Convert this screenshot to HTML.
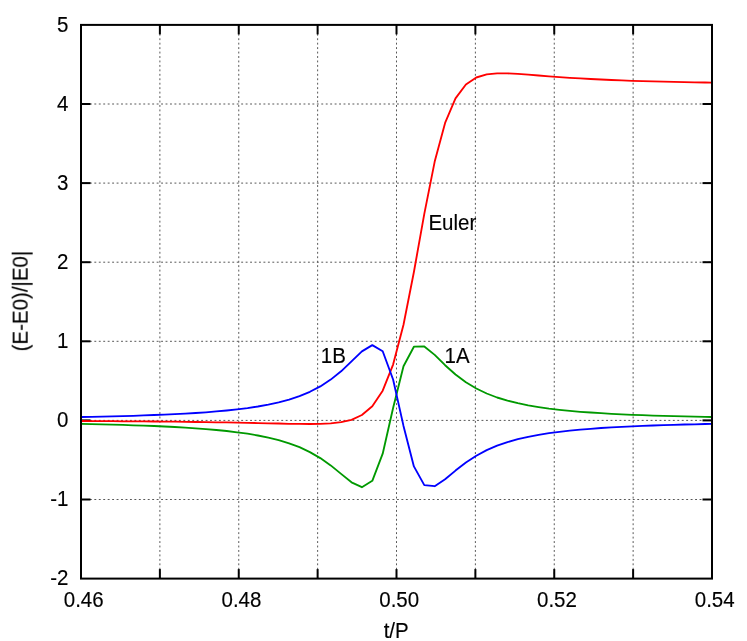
<!DOCTYPE html>
<html><head><meta charset="utf-8"><title>Energy error</title>
<style>
html,body{margin:0;padding:0;background:#fff;}
svg{display:block;}
text{font-family:"Liberation Sans",sans-serif;font-size:20.5px;fill:#000;stroke:#000;stroke-width:0.15px;}
</style></head>
<body>
<svg width="747" height="641" viewBox="0 0 747 641">
<rect x="0" y="0" width="747" height="641" fill="#ffffff"/>
<defs><clipPath id="pc"><rect x="81" y="24.9" width="631" height="553.7"/></clipPath></defs>
<g stroke="#585858" stroke-width="1" stroke-dasharray="1.9 2.55" fill="none">
<line x1="159.875" y1="24.9" x2="159.875" y2="578.6"/>
<line x1="238.750" y1="24.9" x2="238.750" y2="578.6"/>
<line x1="317.625" y1="24.9" x2="317.625" y2="578.6"/>
<line x1="396.500" y1="24.9" x2="396.500" y2="578.6"/>
<line x1="475.375" y1="24.9" x2="475.375" y2="578.6"/>
<line x1="554.250" y1="24.9" x2="554.250" y2="578.6"/>
<line x1="633.125" y1="24.9" x2="633.125" y2="578.6"/>
<line x1="81" y1="104.00" x2="712" y2="104.00"/>
<line x1="81" y1="183.10" x2="712" y2="183.10"/>
<line x1="81" y1="262.20" x2="712" y2="262.20"/>
<line x1="81" y1="341.30" x2="712" y2="341.30"/>
<line x1="81" y1="420.40" x2="712" y2="420.40"/>
<line x1="81" y1="499.50" x2="712" y2="499.50"/>
</g>
<g stroke="#000" stroke-width="2" fill="none">
<line x1="159.88" y1="578.6" x2="159.88" y2="569.1"/><line x1="159.88" y1="24.9" x2="159.88" y2="34.4"/>
<line x1="238.75" y1="578.6" x2="238.75" y2="569.1"/><line x1="238.75" y1="24.9" x2="238.75" y2="34.4"/>
<line x1="317.62" y1="578.6" x2="317.62" y2="569.1"/><line x1="317.62" y1="24.9" x2="317.62" y2="34.4"/>
<line x1="396.50" y1="578.6" x2="396.50" y2="569.1"/><line x1="396.50" y1="24.9" x2="396.50" y2="34.4"/>
<line x1="475.38" y1="578.6" x2="475.38" y2="569.1"/><line x1="475.38" y1="24.9" x2="475.38" y2="34.4"/>
<line x1="554.25" y1="578.6" x2="554.25" y2="569.1"/><line x1="554.25" y1="24.9" x2="554.25" y2="34.4"/>
<line x1="633.12" y1="578.6" x2="633.12" y2="569.1"/><line x1="633.12" y1="24.9" x2="633.12" y2="34.4"/>
<line x1="81" y1="104.00" x2="90.5" y2="104.00"/><line x1="712" y1="104.00" x2="702.5" y2="104.00"/>
<line x1="81" y1="183.10" x2="90.5" y2="183.10"/><line x1="712" y1="183.10" x2="702.5" y2="183.10"/>
<line x1="81" y1="262.20" x2="90.5" y2="262.20"/><line x1="712" y1="262.20" x2="702.5" y2="262.20"/>
<line x1="81" y1="341.30" x2="90.5" y2="341.30"/><line x1="712" y1="341.30" x2="702.5" y2="341.30"/>
<line x1="81" y1="420.40" x2="90.5" y2="420.40"/><line x1="712" y1="420.40" x2="702.5" y2="420.40"/>
<line x1="81" y1="499.50" x2="90.5" y2="499.50"/><line x1="712" y1="499.50" x2="702.5" y2="499.50"/>
</g>
<g clip-path="url(#pc)" fill="none" stroke-width="1.85" stroke-linejoin="round" stroke-linecap="butt">
<polyline stroke="#ff0000" points="60.4,420.9 70.8,421.0 81.2,421.0 91.6,421.1 102.0,421.1 112.4,421.2 122.8,421.3 133.2,421.3 143.6,421.4 154.0,421.5 164.4,421.6 174.8,421.7 185.2,421.8 195.6,422.0 205.9,422.1 216.3,422.3 226.7,422.4 237.1,422.6 247.5,422.8 257.9,423.1 268.3,423.3 278.7,423.5 289.1,423.8 299.5,423.9 309.9,424.0 320.3,423.9 330.7,423.4 341.1,422.2 351.5,419.8 361.9,415.0 372.3,406.3 382.7,390.7 393.1,364.6 403.5,324.8 413.9,272.0 424.3,213.8 434.7,161.6 445.1,122.9 455.5,98.4 465.9,84.5 476.3,77.5 486.7,74.4 497.1,73.3 507.5,73.4 517.8,73.9 528.2,74.7 538.6,75.5 549.0,76.3 559.4,77.1 569.8,77.8 580.2,78.4 590.6,79.0 601.0,79.5 611.4,80.0 621.8,80.4 632.2,80.8 642.6,81.1 653.0,81.4 663.4,81.7 673.8,81.9 684.2,82.1 694.6,82.3 705.0,82.5 715.4,82.7 725.8,82.9 736.2,83.0"/>
<polyline stroke="#009900" points="60.4,423.5 70.8,423.7 81.2,423.9 91.6,424.1 102.0,424.4 112.4,424.6 122.8,424.9 133.2,425.3 143.6,425.6 154.0,426.0 164.4,426.5 174.8,427.0 185.2,427.6 195.6,428.3 205.9,429.1 216.3,430.0 226.7,431.0 237.1,432.3 247.5,433.7 257.9,435.5 268.3,437.6 278.7,440.1 289.1,443.3 299.5,447.2 309.9,452.1 320.3,458.1 330.7,465.4 341.1,473.9 351.5,482.3 361.9,487.2 372.3,480.8 382.7,453.7 393.1,408.0 403.5,366.2 413.9,346.7 424.3,346.5 434.7,354.9 445.1,365.2 455.5,374.5 465.9,382.3 476.3,388.5 486.7,393.5 497.1,397.5 507.5,400.6 517.8,403.2 528.2,405.4 538.6,407.1 549.0,408.6 559.4,409.8 569.8,410.9 580.2,411.8 590.6,412.5 601.0,413.2 611.4,413.8 621.8,414.3 632.2,414.8 642.6,415.2 653.0,415.6 663.4,415.9 673.8,416.2 684.2,416.4 694.6,416.7 705.0,416.9 715.4,417.1 725.8,417.3 736.2,417.4"/>
<polyline stroke="#0000ff" points="60.4,417.4 70.8,417.2 81.2,417.0 91.6,416.8 102.0,416.6 112.4,416.3 122.8,416.1 133.2,415.8 143.6,415.4 154.0,415.0 164.4,414.6 174.8,414.1 185.2,413.6 195.6,413.0 205.9,412.3 216.3,411.4 226.7,410.5 237.1,409.4 247.5,408.1 257.9,406.5 268.3,404.6 278.7,402.3 289.1,399.6 299.5,396.1 309.9,391.8 320.3,386.4 330.7,379.6 341.1,371.3 351.5,361.4 361.9,351.4 372.3,345.1 382.7,351.2 393.1,379.5 403.5,425.9 413.9,466.4 424.3,485.1 434.7,486.2 445.1,479.3 455.5,470.6 465.9,462.5 476.3,455.7 486.7,450.1 497.1,445.7 507.5,442.1 517.8,439.1 528.2,436.8 538.6,434.8 549.0,433.1 559.4,431.8 569.8,430.6 580.2,429.6 590.6,428.8 601.0,428.0 611.4,427.4 621.8,426.8 632.2,426.3 642.6,425.9 653.0,425.5 663.4,425.1 673.8,424.8 684.2,424.5 694.6,424.3 705.0,424.0 715.4,423.8 725.8,423.6 736.2,423.5"/>
</g>
<rect x="81" y="24.9" width="631" height="553.7" fill="none" stroke="#000" stroke-width="2"/>
<g opacity="0.999">
<text transform="translate(83.70,606.60) scale(1,1.07)" text-anchor="middle">0.46</text>
<text transform="translate(241.45,606.60) scale(1,1.07)" text-anchor="middle">0.48</text>
<text transform="translate(399.20,606.60) scale(1,1.07)" text-anchor="middle">0.50</text>
<text transform="translate(556.95,606.60) scale(1,1.07)" text-anchor="middle">0.52</text>
<text transform="translate(714.70,606.60) scale(1,1.07)" text-anchor="middle">0.54</text>
<text transform="translate(68.50,32.10) scale(1,1.07)" text-anchor="end">5</text>
<text transform="translate(68.50,111.10) scale(1,1.07)" text-anchor="end">4</text>
<text transform="translate(68.50,190.10) scale(1,1.07)" text-anchor="end">3</text>
<text transform="translate(68.50,269.10) scale(1,1.07)" text-anchor="end">2</text>
<text transform="translate(68.50,348.10) scale(1,1.07)" text-anchor="end">1</text>
<text transform="translate(68.50,427.10) scale(1,1.07)" text-anchor="end">0</text>
<text transform="translate(68.50,506.10) scale(1,1.07)" text-anchor="end">-1</text>
<text transform="translate(68.50,585.10) scale(1,1.07)" text-anchor="end">-2</text>
<text transform="translate(396.15,637.80) scale(1,1.07)" text-anchor="middle">t/P</text>
<text transform="translate(28.00,301.10) rotate(-90) scale(1,1.07)" text-anchor="middle">(E-E0)/|E0|</text>
<text transform="translate(428.40,229.70) scale(1,1.07)" text-anchor="start">Euler</text>
<text transform="translate(320.80,363.40) scale(1,1.07)" text-anchor="start">1B</text>
<text transform="translate(444.60,363.40) scale(1,1.07)" text-anchor="start">1A</text>
</g>
</svg>
</body></html>
